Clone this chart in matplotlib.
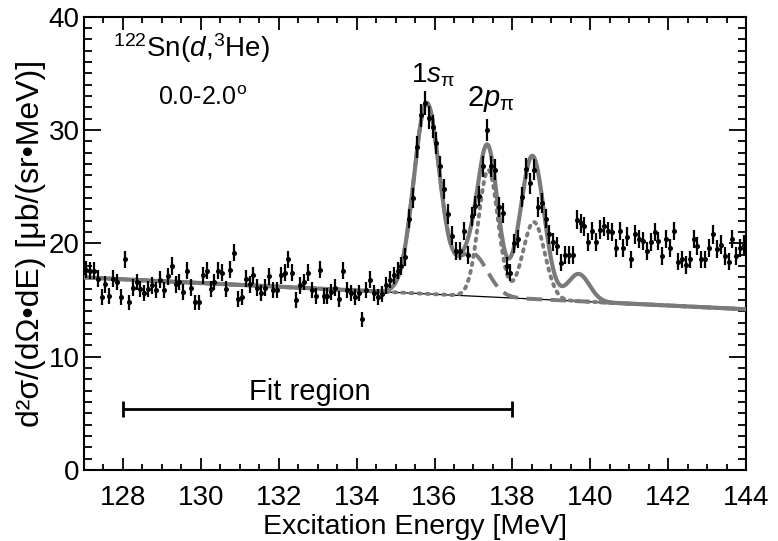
import matplotlib
matplotlib.use("Agg")
import matplotlib.pyplot as plt
import numpy as np

plt.rcParams['font.family'] = ['Liberation Sans', 'DejaVu Sans']
plt.rcParams['mathtext.fontset'] = 'custom'
plt.rcParams['mathtext.rm'] = 'Liberation Sans'
plt.rcParams['mathtext.it'] = 'Liberation Sans:italic'

# spectrum, 0.1 MeV bins from 127.0 to 144.0 MeV
e_start = 127.05
e_step = 0.1
counts = [
    # 127.05 - 130.45
    17.7, 17.6, 17.6, 16.9, 15.3, 16.4, 15.4, 16.9, 16.6, 15.3,
    18.6, 14.8, 16.1, 16.6, 16.0, 15.6, 16.0, 16.3, 15.9, 16.8,
    15.9, 17.1, 18.0, 16.4, 16.6, 15.7, 17.6, 16.1, 14.8, 14.8,
    17.2, 17.6, 16.0, 16.6, 17.6,
    # 130.55 - 133.85
    17.4, 16.0, 17.7, 19.2, 15.1, 15.3, 16.9, 16.4, 17.2, 16.1,
    15.6, 16.1, 17.1, 15.9, 15.9, 17.2, 17.4, 18.6, 17.4, 15.0,
    16.3, 16.6, 17.4, 15.9, 15.4, 17.7, 15.4, 15.4, 15.7, 16.1,
    15.1, 17.6, 15.9, 15.6,
    # 133.95 - 134.55
    15.3, 15.6, 13.3, 15.9, 16.8, 15.6, 15.3,
    # 134.65 - 139.55
    15.5, 16.3, 16.8, 17.2, 17.6, 18.0, 18.8, 22.2, 24.0, 28.5,
    31.3, 32.4, 31.1, 30.3, 28.9, 26.8, 24.8, 22.6, 20.7, 19.3,
    19.3, 21.1, 19.0, 22.4, 23.3, 24.2, 26.8, 30.0, 26.8, 26.5,
    23.2, 22.7, 18.0, 17.4, 20.0, 20.4, 24.1, 26.6, 25.3, 26.5,
    23.2, 23.6, 22.2, 20.8, 20.1, 19.8, 18.3, 19.0, 19.0, 19.0,
    # 139.65 - 143.95
    22.1, 21.8, 21.5, 20.1, 21.1, 20.1, 21.2, 21.5, 21.1, 21.0,
    19.6, 21.1, 19.6, 20.6, 18.6, 20.8, 20.4, 20.2, 19.3, 20.1,
    21.0, 20.2, 18.9, 20.4, 19.6, 21.1, 18.4, 18.6, 18.1, 18.6,
    20.4, 19.8, 18.6, 18.6, 19.6, 20.8, 19.5, 19.9, 18.9, 18.4,
    20.4, 18.9, 19.6, 19.9,
]
err_scale = 0.18

# fit result: linear background + gaussian peaks (center, height, sigma)
bg_at_127 = 17.0
bg_slope = -0.165
peaks_1s = [(135.80, 16.8, 0.33), (136.95, 3.8, 0.40)]
peaks_2p = [(137.38, 11.2, 0.25), (138.55, 6.8, 0.28)]
peaks_other = [(138.45, 6.0, 0.33), (139.70, 2.4, 0.28)]

fit_lo, fit_hi = 128.0, 138.0


def background(x):
    return bg_at_127 + bg_slope * (x - 127.0)


def gaussians(x, peaks):
    y = np.zeros_like(x)
    for c, h, s in peaks:
        y += h * np.exp(-(x - c) ** 2 / (2 * s ** 2))
    return y


def ve():
    fig = plt.figure(figsize=(7.78, 5.41), dpi=100)
    ax = fig.add_axes([0.108, 0.131, 0.851, 0.838])

    y = np.array(counts)
    x = e_start + e_step * np.arange(len(y))
    yerr = err_scale * np.sqrt(y)

    xf = np.linspace(127.0, 144.0, 1200)
    bg = background(xf)
    gray = '#7a7a7a'
    ax.plot(xf, bg, color='black', lw=0.9, zorder=2)
    ax.plot(xf, bg + gaussians(xf, peaks_1s), color=gray, lw=2.8,
            dashes=(4, 2.2), zorder=3)
    ax.plot(xf, bg + gaussians(xf, peaks_2p), color=gray, lw=2.8,
            linestyle=(0, (0.6, 1.5)), dash_capstyle='round', zorder=3)
    total = bg + gaussians(xf, peaks_1s + peaks_2p + peaks_other)
    ax.plot(xf, total, color=gray, lw=3.0, zorder=3)

    ax.errorbar(x, y, yerr=yerr, fmt='o', ms=2.6, color='black',
                elinewidth=1.6, capsize=0, zorder=4)

    # fit region marker
    ax.errorbar([(fit_lo + fit_hi) / 2], [5.4], xerr=[(fit_hi - fit_lo) / 2],
                fmt='none', ecolor='black', elinewidth=2, capsize=6,
                capthick=2)
    ax.text(132.8, 5.7, "Fit region", ha='center', va='bottom', fontsize=21)

    ax.text(127.75, 37.2, r"$^{122}$Sn($d$,$^{3}$He)", fontsize=20,
            ha='left', va='center')
    ax.text(128.9, 32.8, r"0.0-2.0$^{\mathrm{o}}$", fontsize=18,
            ha='left', va='center')
    ax.text(135.95, 33.6, r"1$s_{\mathrm{π}}$", fontsize=20, ha='center',
            va='bottom')
    ax.text(137.45, 31.4, r"2$p_{\mathrm{π}}$", fontsize=21, ha='center',
            va='bottom')

    ax.set_xlim(127, 144)
    ax.set_ylim(0, 40)
    ax.set_xticks(np.arange(128, 145, 2))
    ax.set_xticks(np.arange(127, 144.01, 0.5), minor=True)
    ax.set_yticks(np.arange(0, 41, 10))
    ax.set_yticks(np.arange(0, 41, 1), minor=True)
    ax.tick_params(which='both', direction='in', top=True, right=True,
                   width=1.3, labelsize=20)
    ax.tick_params(axis='x', which='major', length=9, pad=11)
    ax.tick_params(axis='x', which='minor', length=4.5)
    ax.tick_params(axis='y', which='major', length=12, pad=3)
    ax.tick_params(axis='y', which='minor', length=6)
    for sp in ax.spines.values():
        sp.set_linewidth(1.5)

    ax.set_xlabel("Excitation Energy [MeV]", fontsize=20.5, labelpad=2)
    ax.set_ylabel("d²σ/(dΩ•dE) [μb/(sr•MeV)]", fontsize=23, labelpad=2)
    fig.savefig("out.png", dpi=100)


ve()
